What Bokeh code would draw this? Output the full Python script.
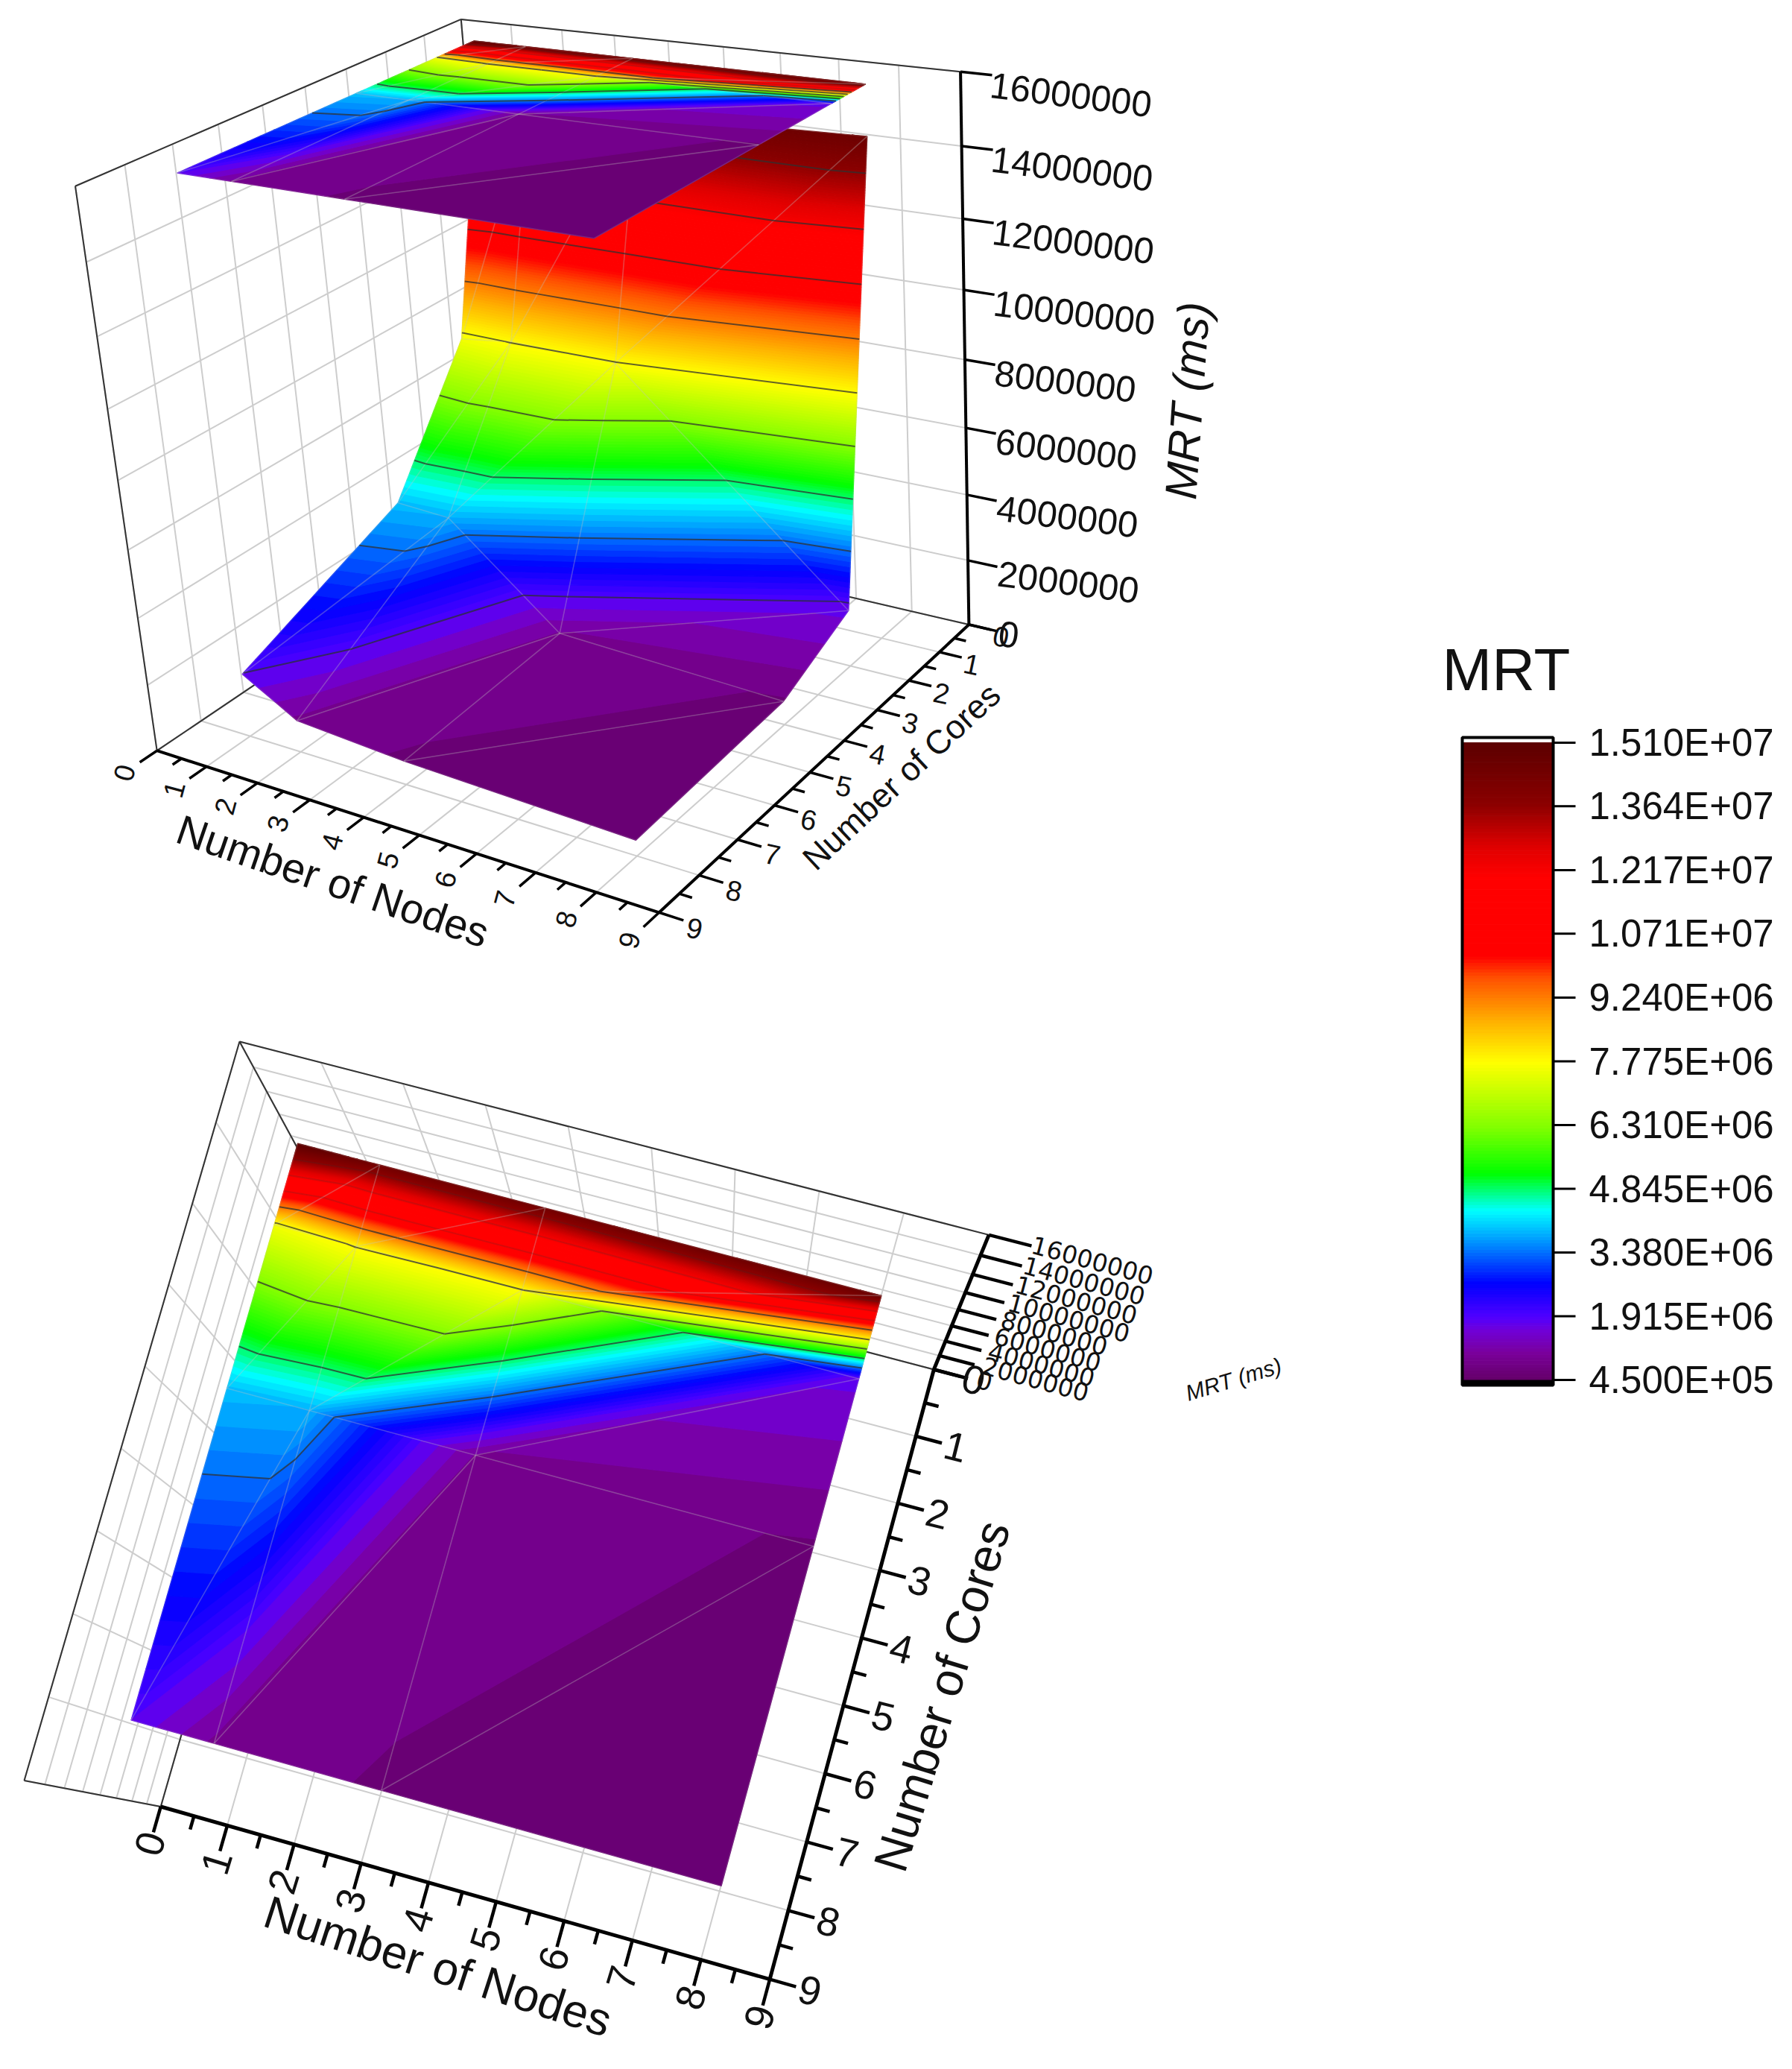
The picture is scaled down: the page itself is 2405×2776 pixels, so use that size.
import numpy as np
from bokeh.plotting import figure
from bokeh.models import Range1d
from bokeh.core.properties import value
from bokeh.embed import file_html
from bokeh.resources import INLINE

# ---------- chart data ----------
NODES = [1, 2, 4, 8]
CORES = [1, 2, 4, 8]
MRT_CORES_1 = [15100000, 14400000, 14400000, 14600000]
MRT_CORES_2 = [7600000, 7800000, 7750000, 1700000]
MRT_CORES_4 = [3900000, 3800000, 1000000, 700000]
MRT_CORES_8 = [1900000, 950000, 700000, 450000]
AXIS_TICKS = [0, 1, 2, 3, 4, 5, 6, 7, 8, 9]
Z_TICKS = [0, 2000000, 4000000, 6000000, 8000000, 10000000, 12000000, 14000000, 16000000]
COLORBAR_TICKS = [15100000, 13640000, 12170000, 10710000, 9240000, 7775000, 6310000, 4845000, 3380000, 1915000, 450000]
COLORBAR_LABELS = ["1.510E+07", "1.364E+07", "1.217E+07", "1.071E+07", "9.240E+06", "7.775E+06",
                   "6.310E+06", "4.845E+06", "3.380E+06", "1.915E+06", "4.500E+05"]
CMAP_VALUES = [0.45e6, 1.06e6, 1.6e6, 1.9e6, 2.67e6, 3.6e6, 4.35e6, 5.2e6, 6.25e6, 7.75e6, 8.7e6, 9.7e6, 10.2e6, 12.0e6, 12.7e6, 13.7e6, 15.1e6]
CMAP_COLORS = ["#640068", "#7a009a", "#7000d8", "#5000ff", "#0000ff", "#0090ff", "#00ffff", "#00ff00", "#80ff00",
               "#ffff00", "#ffb000", "#ff5000", "#ff0000", "#ff0000", "#e00000", "#8a0000", "#5c0000"]
Z_MAX = 16000000
FONT = "Liberation Sans"
SCALE = 2405 / 1357

MRT = np.array([MRT_CORES_1, MRT_CORES_2, MRT_CORES_4, MRT_CORES_8], dtype=float)
CM_RGB = np.array([[int(c[i:i + 2], 16) for i in (1, 3, 5)] for c in CMAP_COLORS], dtype=float)


def color_of(v):
    rgb = [np.interp(v, CMAP_VALUES, CM_RGB[:, k]) for k in range(3)]
    return "#%02x%02x%02x" % tuple(int(round(c)) for c in rgb)


# ---------- perspective camera fitted to view anchors ----------
def fit_camera(pairs):
    rows = []
    for (x, y, z), (u, v) in pairs:
        u, v = u * SCALE, v * SCALE
        X = [x, y, z / Z_MAX, 1.0]
        rows.append(X + [0, 0, 0, 0] + [-u * a for a in X])
        rows.append([0, 0, 0, 0] + X + [-v * a for a in X])
    _, _, vt = np.linalg.svd(np.array(rows))
    return vt[-1].reshape(3, 4)


def project(P, x, y, z):
    h = P @ np.array([x, y, z / Z_MAX, 1.0])
    return h[0] / h[2], h[1] / h[2]


CAM_TOP = fit_camera([
    ((0, 9, 0), (118, 568)), ((9, 9, 0), (500, 690)), ((9, 0, 0), (733, 473)),
    ((0, 9, Z_MAX), (56, 140)), ((0, 0, Z_MAX), (350, 14)), ((9, 0, Z_MAX), (728, 52)),
    ((1, 1, Z_MAX), (358, 32)), ((8, 1, Z_MAX), (654, 64)), ((1, 8, Z_MAX), (135, 130)), ((8, 8, Z_MAX), (449, 182)),
])
CAM_BOT = fit_camera([
    ((0, 9, 0), (121, 1367)), ((9, 9, 0), (583, 1498)), ((9, 0, 0), (707, 1037)),
    ((0, 9, Z_MAX), (18, 1349)), ((0, 0, Z_MAX), (184, 788)), ((9, 0, Z_MAX), (751, 936)),
    ((1, 1, Z_MAX), (222, 865)), ((8, 1, Z_MAX), (664, 979)), ((1, 8, Z_MAX), (100, 1302)), ((8, 8, Z_MAX), (546, 1427)),
])


# ---------- surface geometry ----------
def triangles():
    out = []
    for j in range(len(CORES) - 1):
        for i in range(len(NODES) - 1):
            a = (NODES[i], CORES[j], MRT[j, i])
            b = (NODES[i + 1], CORES[j], MRT[j, i + 1])
            c = (NODES[i], CORES[j + 1], MRT[j + 1, i])
            d = (NODES[i + 1], CORES[j + 1], MRT[j + 1, i + 1])
            out.append((a, b, c))
            out.append((b, d, c))
    out.sort(key=lambda t: sum(p[0] + p[1] for p in t))
    return out


def clip(poly, level, keep_above):
    res = []
    n = len(poly)
    for k in range(n):
        p, q = poly[k], poly[(k + 1) % n]
        pin = (p[2] >= level) if keep_above else (p[2] <= level)
        qin = (q[2] >= level) if keep_above else (q[2] <= level)
        if pin:
            res.append(p)
        if pin != qin:
            t = (level - p[2]) / (q[2] - p[2])
            res.append(tuple(p[m] + t * (q[m] - p[m]) for m in range(3)))
    return res


def contour_segment(tri, level):
    pts = []
    for k in range(3):
        p, q = tri[k], tri[(k + 1) % 3]
        if (p[2] - level) * (q[2] - level) < 0:
            t = (level - p[2]) / (q[2] - p[2])
            pts.append(tuple(p[m] + t * (q[m] - p[m]) for m in range(3)))
    return pts if len(pts) == 2 else None


def band_levels():
    lo, hi = COLORBAR_TICKS[-1], COLORBAR_TICKS[0]
    coarse = np.linspace(lo, hi, 51)
    mid = np.linspace(lo, hi, 101)
    fine = np.linspace(lo, hi, 201)
    a, b = COLORBAR_TICKS[9], COLORBAR_TICKS[7]
    return np.unique(np.concatenate([coarse[coarse <= a], mid[(mid > a) & (mid <= b)], fine[fine > b]]))


def draw_surface(p, P, flat):
    def pr(pt):
        return project(P, pt[0], pt[1], Z_MAX if flat else pt[2])

    levels = band_levels()
    tris = triangles()
    xs, ys, cols = [], [], []
    for t in tris:
        for lo, hi in zip(levels[:-1], levels[1:]):
            poly = clip(clip(list(t), lo, True), hi, False)
            if len(poly) < 3:
                continue
            uv = [pr(q) for q in poly]
            xs.append([a for a, _ in uv])
            ys.append([b for _, b in uv])
            cols.append(color_of((lo + hi) / 2))
    p.patches(xs, ys, fill_color=cols, line_color=cols, line_width=1.2)
    # mesh
    mx, my = [], []
    for t in tris:
        for k in range(3):
            a, b = pr(t[k]), pr(t[(k + 1) % 3])
            mx.append([a[0], b[0]])
            my.append([a[1], b[1]])
    p.multi_line(mx, my, line_color="#c4c4c4", line_alpha=0.18, line_width=1.6)
    # contour lines at the colour-bar ticks
    strong = COLORBAR_TICKS[4:9] if flat else COLORBAR_TICKS[1:-1]
    faint = COLORBAR_TICKS[1:4] if flat else []
    for lev_list, alpha in ((strong, 0.75), (faint, 0.2)):
        cx, cy = [], []
        for t in tris:
            for lev in lev_list:
                seg = contour_segment(t, lev)
                if seg:
                    a, b = pr(seg[0]), pr(seg[1])
                    cx.append([a[0], b[0]])
                    cy.append([a[1], b[1]])
        if cx:
            p.multi_line(cx, cy, line_color="#303030", line_alpha=alpha, line_width=2)


def segs(P, items):
    xs, ys = [], []
    for a, b in items:
        u, v = project(P, *a), project(P, *b)
        xs.append([u[0], v[0]])
        ys.append([u[1], v[1]])
    return xs, ys


def draw_box(p, P, axis_w):
    grid = []
    for k in AXIS_TICKS:
        grid.append(((k, 0, 0), (k, 9, 0)))       # floor
        grid.append(((0, k, 0), (9, k, 0)))
        grid.append(((k, 0, 0), (k, 0, Z_MAX)))   # back wall
        grid.append(((0, k, 0), (0, k, Z_MAX)))   # side wall
    for z in Z_TICKS:
        grid.append(((0, 0, z), (9, 0, z)))
        grid.append(((0, 0, z), (0, 9, z)))
    xs, ys = segs(P, grid)
    p.multi_line(xs, ys, line_color="#cdcdcd", line_width=2)
    frame = [((0, 9, 0), (0, 9, Z_MAX)), ((0, 9, Z_MAX), (0, 0, Z_MAX)), ((0, 0, Z_MAX), (9, 0, Z_MAX)),
             ((0, 0, 0), (0, 0, Z_MAX)), ((0, 0, 0), (0, 9, 0)), ((0, 0, 0), (9, 0, 0))]
    xs, ys = segs(P, frame)
    p.multi_line(xs, ys, line_color="#333333", line_width=2)


def draw_axes(p, P, axis_w):
    main = [((0, 9, 0), (9, 9, 0)), ((9, 9, 0), (9, 0, 0)), ((9, 0, 0), (9, 0, Z_MAX))]
    ticks = []
    for k in AXIS_TICKS:
        ticks.append(((k, 9, 0), (k, 9.38, 0)))
        ticks.append(((9, k, 0), (9.38, k, 0)))
        if k < 9:
            ticks.append(((k + 0.5, 9, 0), (k + 0.5, 9.2, 0)))
            ticks.append(((9, k + 0.5, 0), (9.2, k + 0.5, 0)))
    for z in Z_TICKS:
        ticks.append(((9, 0, z), (9.5, 0, z)))
    xs, ys = segs(P, main)
    p.multi_line(xs, ys, line_color="black", line_width=axis_w)
    xs, ys = segs(P, ticks)
    p.multi_line(xs, ys, line_color="black", line_width=axis_w - 0.5)


def txt(p, x, y, s, size, angle=0.0, align="center", base="middle", style="normal", font=FONT, xo=0, yo=0, color="#111111"):
    p.text([x], [y], text=[s], text_font=value(font), text_font_size=size, angle=[np.radians(angle)], text_align=align,
           text_baseline=base, text_font_style=style, text_color=color, x_offset=xo, y_offset=yo)


# ---------- page ----------
p = figure(width=2389, height=2760, x_range=Range1d(0, 2389), y_range=Range1d(2760, 0),
           output_backend="svg", toolbar_location=None, min_border=0)
p.axis.visible = False
p.grid.visible = False
p.outline_line_color = None

# --- upper view ---
draw_box(p, CAM_TOP, 4)
draw_surface(p, CAM_TOP, flat=False)
draw_surface(p, CAM_TOP, flat=True)
draw_axes(p, CAM_TOP, 4)
for k in AXIS_TICKS:
    x, y = project(CAM_TOP, k, 9.72, 0)
    txt(p, x, y, str(k), "38px", angle=75)
    x, y = project(CAM_TOP, 9.55, k, 0)
    txt(p, x, y + 6, str(k), "38px", angle=-12)
for z in Z_TICKS:
    x, y = project(CAM_TOP, 9, 0, z)
    txt(p, x, y, str(z), "49px", angle=-7, align="left", xo=40, yo=18 if z else 12)
x, y = project(CAM_TOP, 4.65, 10.5, 0)
txt(p, x, y, "Number of Nodes", "56px", angle=-19)
x, y = project(CAM_TOP, 10.2, 4.5, 0)
txt(p, x, y, "Number of Cores", "45px", angle=43)
txt(p, 899 * SCALE, 303 * SCALE, "MRT (ms)", "60px", angle=86, style="italic")

# --- lower view ---
draw_box(p, CAM_BOT, 5)
draw_surface(p, CAM_BOT, flat=True)
draw_axes(p, CAM_BOT, 5)
for k in AXIS_TICKS:
    x, y = project(CAM_BOT, k, 9.55, 0)
    txt(p, x, y, str(k), "54px", angle=73)
    x, y = project(CAM_BOT, 9.58, k, 0)
    txt(p, x, y, str(k), "54px", angle=-14)
for z in Z_TICKS:
    x, y = project(CAM_BOT, 9, 0, z)
    txt(p, x, y, str(z), "33px", angle=-15, align="left", xo=58, yo=12, font="DejaVu Sans")
x, y = project(CAM_BOT, 4.45, 10.1, 0)
txt(p, x, y, "Number of Nodes", "62px", angle=-18)
x, y = project(CAM_BOT, 10.3, 4.5, 0)
txt(p, x, y, "Number of Cores", "64px", angle=73)
txt(p, 1655, 1850, "MRT (ms)", "30px", angle=17, style="italic")

# --- colour bar ---
CB_L, CB_R, CB_TOP, CB_Y_MAX, CB_Y_MIN, CB_BOT = 1962, 2084, 989, 996, 1851, 1858


def cb_y(v):
    return CB_Y_MIN + (CB_Y_MAX - CB_Y_MIN) * (v - COLORBAR_TICKS[-1]) / (COLORBAR_TICKS[0] - COLORBAR_TICKS[-1])


edges = np.linspace(COLORBAR_TICKS[-1], COLORBAR_TICKS[0], 201)
cb_cols = [color_of((a + b) / 2) for a, b in zip(edges[:-1], edges[1:])]
p.quad(left=CB_L, right=CB_R, bottom=[cb_y(v) for v in edges[:-1]], top=[cb_y(v) for v in edges[1:]],
       fill_color=cb_cols, line_color=cb_cols, line_width=1)
p.quad(left=[CB_L], right=[CB_R], bottom=[CB_Y_MIN], top=[CB_BOT], fill_color="black", line_color=None)
p.quad(left=[CB_L], right=[CB_R], top=[CB_TOP], bottom=[CB_BOT], fill_color=None, line_color="black", line_width=4)
p.segment(x0=[CB_R] * len(COLORBAR_TICKS), x1=[CB_R + 30] * len(COLORBAR_TICKS),
          y0=[cb_y(v) for v in COLORBAR_TICKS], y1=[cb_y(v) for v in COLORBAR_TICKS], line_color="black", line_width=3)
for v, s in zip(COLORBAR_TICKS, COLORBAR_LABELS):
    txt(p, 2132, cb_y(v), s, "51px", align="left")
txt(p, 1935, 898, "MRT", "80px", align="left")

open("out.html", "w").write(file_html(p, INLINE))
